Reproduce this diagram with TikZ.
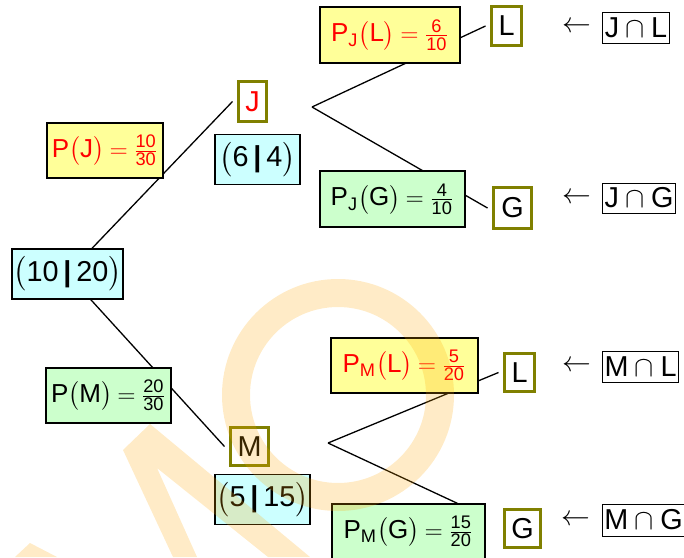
\documentclass[tikz,border=0pt]{standalone}
\usepackage{amsmath}
\usepackage{fontspec}
\setmainfont{Liberation Sans}
\usetikzlibrary{positioning,calc,backgrounds}
\definecolor{yelfill}{HTML}{FFFF99}
\definecolor{grnfill}{HTML}{CCFFCC}
\definecolor{cynfill}{HTML}{CCFFFF}
\definecolor{evtolive}{HTML}{808000}
\definecolor{wmorange}{HTML}{FFA500}
\newcommand{\fr}[2]{\frac{\text{#1}}{\text{#2}}}
\newcommand{\eqq}{\mskip4mu{=}\mskip4mu}
\newcommand{\treefont}{\fontsize{14.4}{17}\selectfont}
\newcommand{\probfont}{\fontsize{13}{16}\selectfont}
\tikzset{
  box/.style    = {draw, line width=0.65pt, inner sep=0.5pt, align=center},
  yel/.style    = {box, fill=yelfill, font=\probfont},
  grn/.style    = {box, fill=grnfill, font=\probfont},
  cyn/.style    = {box, fill=cynfill},
  evt/.style    = {draw=evtolive, line width=1.6pt, fill=white, inner sep=0pt, outer sep=3pt},
  meet/.style   = {draw, line width=0.5pt, fill=white, inner sep=1pt},
  branch/.style = {line width=0.65pt},
  wmring/.style = {draw=wmorange, opacity=0.22, line width=14pt},
  wmfill/.style = {fill=wmorange, opacity=0.22},
}

\begin{document}
\begin{tikzpicture}[x=0.5pt, y=-0.5pt, font=\treefont]
\useasboundingbox (0,0) rectangle (684,557);

%% root and first stage
\node[cyn, minimum width=55.5pt, minimum height=25pt] (root) at (67.5,274)
  {$\bigl(\text{10}\,\textbf{|}\,\text{20}\bigr)$};
\node[yel, minimum width=58pt, minimum height=27.5pt] (pj) at (105,150.5)
  {\color{red}$\text{P}\bigl(\text{J}\bigr)\eqq\fr{10}{30}$};
\node[grn, minimum width=62.5pt, minimum height=27.5pt] (pm) at (108.5,395.5)
  {$\text{P}\bigl(\text{M}\bigr)\eqq\fr{20}{30}$};

\node[evt, minimum width=14pt, minimum height=20pt] (jbox) at (252.5,101.5) {\color{red}J};
\node[cyn, below=3pt of jbox, xshift=2.5pt, minimum width=42.5pt, minimum height=25pt] (nj)
  {$\bigl(\text{6}\,\textbf{|}\,\text{4}\bigr)$};
\node[evt, minimum width=19pt, minimum height=19pt] (mbox) at (249.5,446.5) {M};
\node[cyn, below=1pt of mbox, xshift=6.5pt, minimum width=47.5pt, minimum height=25pt] (nm)
  {$\bigl(\text{5}\,\textbf{|}\,\text{15}\bigr)$};

%% second stage after J
\coordinate (forkj) at (312,107);
\node[yel, minimum width=70pt, minimum height=28pt] (pjl) at (390,35)
  {\color{red}$\text{P}_{\text{J}}\bigl(\text{L}\bigr)\eqq\fr{6}{10}$};
\node[grn, minimum width=72.5pt, minimum height=28pt] (pjg) at (392.5,199)
  {$\text{P}_{\text{J}}\bigl(\text{G}\bigr)\eqq\fr{4}{10}$};
\node[evt, minimum width=15pt, minimum height=19.5pt] (jl) at (506.5,26) {L};
\node[evt, minimum width=19pt, minimum height=20.5pt] (jg) at (512.5,208) {G};

%% second stage after M
\coordinate (forkm) at (328,443);
\node[yel, minimum width=73.5pt, minimum height=27.5pt] (pml) at (404.5,365.5)
  {\color{red}$\text{P}_{\text{M}}\bigl(\text{L}\bigr)\eqq\fr{5}{20}$};
\node[grn, minimum width=76.5pt, minimum height=27.5pt] (pmg) at (408.5,531.5)
  {$\text{P}_{\text{M}}\bigl(\text{G}\bigr)\eqq\fr{15}{20}$};
\node[evt, minimum width=15pt, minimum height=19pt] (ml) at (519.5,372.5) {L};
\node[evt, minimum width=18pt, minimum height=19pt] (mg) at (522.5,528.5) {G};

%% intersections
\node[meet, minimum width=33pt, minimum height=15.5pt] (jlcap) at (636,27.5) {$\text{J}\cap\text{L}$};
\node[meet, minimum width=36pt, minimum height=15pt] (jgcap) at (639,198) {$\text{J}\cap\text{G}$};
\node[meet, minimum width=36.5pt, minimum height=15.5pt] (mlcap) at (640.5,366.5) {$\text{M}\cap\text{L}$};
\node[meet, minimum width=39.5pt, minimum height=16pt] (mgcap) at (643.5,520) {$\text{M}\cap\text{G}$};
\node[left=2pt of jlcap] (jlarr) {$\leftarrow$};
\node[left=2pt of jgcap] (jgarr) {$\leftarrow$};
\node[left=2pt of mlcap] (mlarr) {$\leftarrow$};
\node[left=2pt of mgcap] (mgarr) {$\leftarrow$};

%% branches
\begin{scope}[on background layer]
  \draw[branch] (root) -- (jbox.west);
  \draw[branch] (root) -- (mbox.west);
  \draw[branch] (forkj) -- (jl.west);
  \draw[branch] (forkj) -- (jg.west);
  \draw[branch] (forkm) -- (ml.west);
  \draw[branch] (forkm) -- ($(pmg.north)!0.634!(pmg.north east)$);
\end{scope}

%% watermark
\begin{scope}
  \clip (0,0) rectangle (684,557);
  \draw[wmring] (338,395) circle (102);
  \fill[wmfill] (123,450) -- (150,424) -- (310,557) -- (268,557) -- (157,468)
    -- (197,557) -- (173,557) -- cycle;
  \fill[wmfill] (15,557) -- (30,543) -- (57,557) -- cycle;
\end{scope}

\end{tikzpicture}
\end{document}
